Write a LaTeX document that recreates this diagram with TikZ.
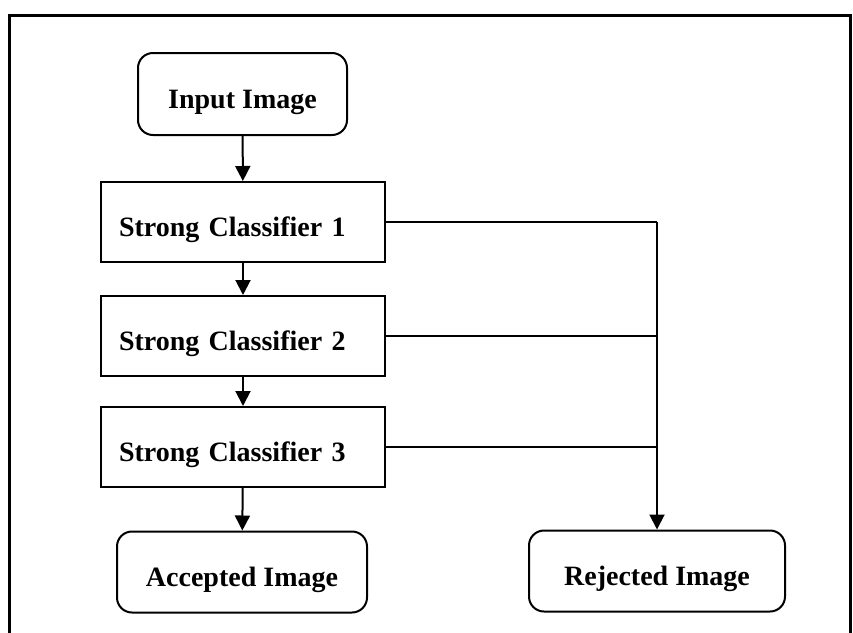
\documentclass[tikz,border=0pt]{standalone}
\usepackage{fontspec}
\setmainfont{Liberation Serif}
\usetikzlibrary{arrows.meta}
\begin{document}
\begin{tikzpicture}[x=1pt,y=-1pt,
  base/.style={draw=black,line width=2pt,font=\fontsize{28}{30}\selectfont\bfseries,inner sep=0pt,text height=28pt,text depth=0pt},
  rbox/.style={base,rounded corners=15pt,align=center},
  cbox/.style={base,minimum width=284pt,minimum height=80pt,text width=248pt,inner xsep=18pt,align=left},
  conn/.style={line width=2pt},
  arr/.style={conn,-{Triangle[length=15pt,width=15pt]}}]
\useasboundingbox (0,0) rectangle (853,632);
\draw[line width=3pt] (9,634) -- (9,15) -- (850,15) -- (850,634);
\node[rbox,minimum width=209pt,minimum height=82pt] (in) at (242.5,94) {Input Image};
\node[cbox] (s1) at (243,222) {Strong Classifier 1};
\node[cbox] (s2) at (243,336) {Strong Classifier 2};
\node[cbox] (s3) at (243,447) {Strong Classifier 3};
\node[rbox,minimum width=250pt,minimum height=81pt] (acc) at (242,572) {Accepted Image};
\node[rbox,minimum width=256pt,minimum height=81pt] (rej) at (657,571) {Rejected Image};
\coordinate (bus) at (657,222);
\draw[arr] (in) -- (s1);
\draw[arr] (s1) -- (s2);
\draw[arr] (s2) -- (s3);
\draw[arr] (s3) -- (acc);
\draw[conn] (s1.east) -- (bus);
\draw[arr] (bus) -- (rej.north);
\draw[conn] (s2.east) -- (s2.east -| bus);
\draw[conn] (s3.east) -- (s3.east -| bus);
\end{tikzpicture}
\end{document}
